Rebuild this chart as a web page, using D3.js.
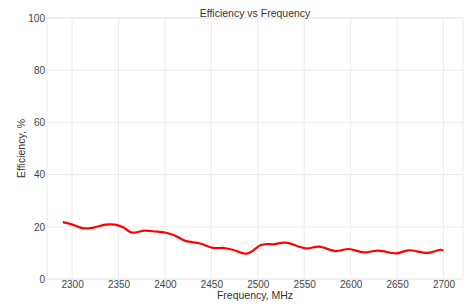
<!DOCTYPE html>
<html lang="en">
<head>
    <meta charset="UTF-8">
    <title>Efficiency vs Frequency</title>
    <script src="https://d3js.org/d3.v7.min.js"></script>
    <style>
        body { margin: 0; background-color: #fff; }
        svg { font-family: "Liberation Sans", Arial, sans-serif; }
        .grid line { stroke: #ebebeb; stroke-width: 1; }
        .axis text { fill: #444; font-size: 10px; }
        .line { fill: none; stroke: #ff0000; stroke-width: 2.2; }
    </style>
</head>
<body>
    <div id="chart"></div>
    <script type="text/javascript">
        // frequency (MHz) and efficiency (%)
        const freq = [2290, 2300, 2311, 2322, 2336, 2346, 2355, 2364, 2378, 2390, 2400, 2410, 2422, 2438,
                      2452, 2462, 2473, 2488, 2503, 2510, 2516, 2530, 2552, 2566, 2584, 2598, 2614, 2630,
                      2649, 2662, 2683, 2697, 2700];
        const eff = [21.8, 20.9, 19.5, 19.6, 20.8, 20.8, 19.8, 17.8, 18.5, 18.2, 17.8, 16.8, 14.6, 13.6,
                     11.9, 11.9, 11.2, 9.7, 12.9, 13.4, 13.3, 13.9, 11.7, 12.4, 10.7, 11.5, 10.2, 10.9,
                     9.8, 11.0, 10.0, 11.2, 11.0];
        const xTicks = [2300, 2350, 2400, 2450, 2500, 2550, 2600, 2650, 2700];
        const yTicks = [0, 20, 40, 60, 80, 100];

        const data = freq.map((f, i) => ({f: f, v: eff[i]}));

        const W = 471, H = 304;
        const margin = {top: 18, right: 8, bottom: 25, left: 47},
              width = W - margin.left - margin.right,
              height = H - margin.top - margin.bottom;

        const x = d3.scaleLinear().domain([2273, 2721]).range([0, width]);
        const y = d3.scaleLinear().domain([0, 100]).range([height, 0]);

        const svg = d3.select("#chart").append("svg")
            .attr("width", W)
            .attr("height", H)
            .append("g")
            .attr("transform", "translate(" + margin.left + "," + margin.top + ")");

        // grid
        const grid = svg.append("g").attr("class", "grid");
        grid.selectAll(".vx").data(xTicks).join("line")
            .attr("x1", d => x(d)).attr("x2", d => x(d))
            .attr("y1", 0).attr("y2", height);
        grid.selectAll(".hy").data(yTicks).join("line")
            .attr("x1", -2).attr("x2", width)
            .attr("y1", d => y(d)).attr("y2", d => y(d));
        svg.append("rect")
            .attr("width", width).attr("height", height)
            .attr("fill", "none").attr("stroke", "#ebebeb");

        // axes (labels only)
        svg.append("g")
            .attr("class", "axis")
            .attr("transform", "translate(0," + height + ")")
            .call(d3.axisBottom(x).tickValues(xTicks).tickFormat(d3.format("d")).tickSize(0).tickPadding(2))
            .call(g => g.select(".domain").remove());

        svg.append("g")
            .attr("class", "axis")
            .call(d3.axisLeft(y).tickValues(yTicks).tickSize(0).tickPadding(2))
            .call(g => g.select(".domain").remove());

        const line = d3.line()
            .x(d => x(d.f))
            .y(d => y(d.v))
            .curve(d3.curveCatmullRom);

        svg.append("path")
            .datum(data)
            .attr("class", "line")
            .attr("d", line);

        // title and axis labels
        svg.append("text")
            .attr("x", width / 2).attr("y", -1.5)
            .attr("text-anchor", "middle")
            .attr("fill", "#333").attr("font-size", "10.5px")
            .text("Efficiency vs Frequency");

        svg.append("text")
            .attr("x", width / 2).attr("y", height + 20)
            .attr("text-anchor", "middle")
            .attr("fill", "#333").attr("font-size", "10.5px")
            .text("Frequency, MHz");

        svg.append("text")
            .attr("transform", "rotate(-90)")
            .attr("x", -height / 2).attr("y", -22)
            .attr("text-anchor", "middle")
            .attr("fill", "#333").attr("font-size", "10.5px")
            .text("Efficiency, %");
    </script>
</body>
</html>
